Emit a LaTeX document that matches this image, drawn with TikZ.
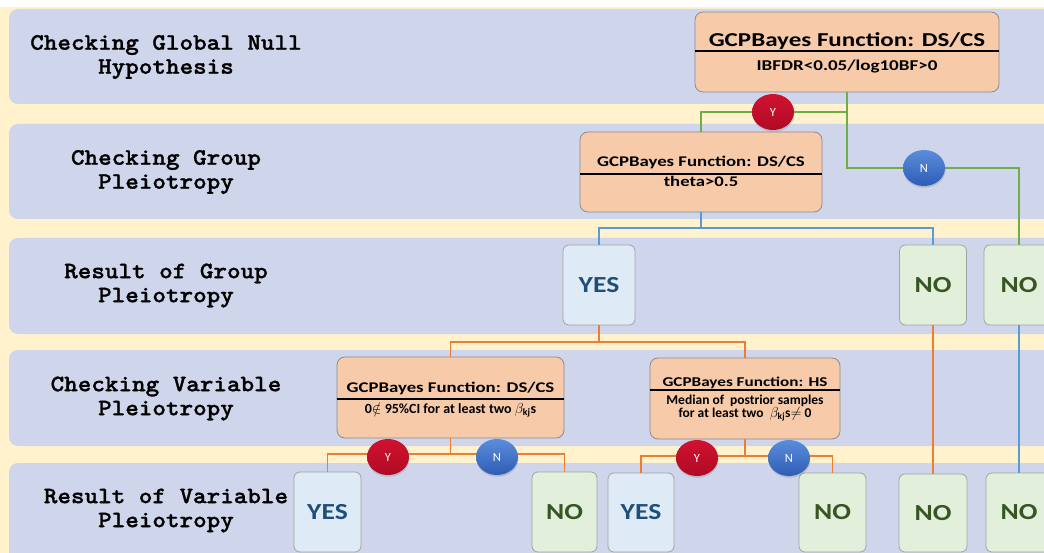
\documentclass[tikz,border=0pt]{standalone}
\usepackage{fontspec}
\setmainfont{Carlito}
\newfontfamily\bxf[FakeStretch=1.27]{Carlito}
\newfontfamily\ynf[FakeStretch=1.2]{Carlito}
\newfontfamily\lbf{lmmonolt10-bold}[Extension=.otf, FakeStretch=1.1, FakeBold=1.2]
\usetikzlibrary{shapes.geometric,shadows}
\definecolor{bandc}{HTML}{CFD5EA}
\definecolor{yel}{HTML}{FFF2CC}
\definecolor{peach}{HTML}{F7CBAA}
\definecolor{yesf}{HTML}{DEEAF6}
\definecolor{yestxt}{HTML}{1F4E79}
\definecolor{nof}{HTML}{E2EFDA}
\definecolor{notxt}{HTML}{375623}
\definecolor{gline}{HTML}{70AD47}
\definecolor{bline}{HTML}{5B9BD5}
\definecolor{oline}{HTML}{ED7D31}
\definecolor{ytop}{HTML}{D0122F}
\definecolor{ybot}{HTML}{B00A25}
\definecolor{ntop}{HTML}{5B8DDB}
\definecolor{nbot}{HTML}{2E5DB5}
\definecolor{bord}{HTML}{8C8C8C}
\begin{document}
\begin{tikzpicture}[x=1pt,y=-1pt,
 fbox/.style={draw=bord, fill=peach, rounded corners=8pt, line width=0.8pt, inner sep=0},
 divl/.style={line width=1.2pt, black},
 ttl/.style={anchor=base, font=\bxf\bfseries\fontsize{#1}{#1}\selectfont},
 sub/.style={anchor=base, font=\bfseries\fontsize{#1}{#1}\selectfont},
 resbox/.style={draw=bord!80, rounded corners=6pt, line width=0.8pt, minimum width=67pt, minimum height=80pt, inner sep=0, font=\ynf\bfseries\fontsize{23}{23}\selectfont},
 yesbox/.style={resbox, fill=yesf, text=yestxt},
 nobox/.style={resbox, fill=nof, text=notxt},
 lab/.style={font=\lbf\fontsize{23.5}{24}\selectfont, align=center},
 conn/.style={line width=1.4pt},
 circ/.style={ellipse, minimum width=42pt, minimum height=36pt, inner sep=0, text=white, font=\fontsize{12.5}{12.5}\selectfont, drop shadow={shadow xshift=0.5pt, shadow yshift=-1.8pt, opacity=0.3}},
 ycirc/.style={circ, top color=ytop, bottom color=ybot},
 ncirc/.style={circ, top color=ntop, bottom color=nbot},
]
\useasboundingbox (0,0) rectangle (1044,553);
\clip (0,0) rectangle (1044,553);
\fill[white] (0,0) rectangle (1044,553);
\fill[yel] (0,7) rectangle (1044,553);
\fill[bandc, rounded corners=9pt] (9,9) rectangle (1070,104);
\fill[bandc, rounded corners=9pt] (9,124) rectangle (1070,219);
\fill[bandc, rounded corners=9pt] (9,238) rectangle (1070,334);
\fill[bandc, rounded corners=9pt] (9,350) rectangle (1070,446);
\fill[bandc, rounded corners=9pt] (9,463) rectangle (1070,580);

% left labels
\node[lab] (l1) at (166,57) {Checking Global Null\\Hypothesis};
\node[lab] (l2) at (166,172) {Checking Group\\Pleiotropy};
\node[lab] (l3) at (166,285.5) {Result of Group\\Pleiotropy};
\node[lab] (l4) at (166,398.5) {Checking Variable\\Pleiotropy};
\node[lab] (l5) at (166,510.5) {Result of Variable\\Pleiotropy};

% function boxes
\node[fbox, minimum width=304pt, minimum height=80pt] (gnull) at (847,52) {};
\draw[divl] ([yshift=1pt]gnull.west) -- ([yshift=1pt]gnull.east);
\node[ttl=19.7] (gnullT) at (847,46.5) {GCPBayes Function: DS/CS};
\node[ttl=15] (gnullS) at (847,71) {IBFDR<0.05/log10BF>0};

\node[fbox, minimum width=242pt, minimum height=80pt] (grp) at (701,172) {};
\draw[divl] ([yshift=-2pt]grp.west) -- ([yshift=-2pt]grp.east);
\node[ttl=14.8] (grpT) at (701,167) {GCPBayes Function: DS/CS};
\node[ttl=14.7] (grpS) at (701,187) {theta>0.5};

\node[fbox, minimum width=227pt, minimum height=81pt] (vds) at (450.5,397.5) {};
\draw[divl] ([yshift=-1.5pt]vds.west) -- ([yshift=-1.5pt]vds.east);
\node[ttl=14.8] (vdsT) at (450.5,392) {GCPBayes Function: DS/CS};
\node[sub=14] (vdsS) at (450.5,413) {0$\notin$ 95\%CI for at least two $\beta_{\mathbf{kj}}$s};

\node[fbox, minimum width=190pt, minimum height=81pt] (vhs) at (745,398.5) {};
\draw[divl] ([yshift=8.5pt]vhs.west) -- ([yshift=8.5pt]vhs.east);
\node[ttl=13.5] (vhsT) at (745,386) {GCPBayes Function: HS};
\node[sub=13.5] (vhsS1) at (745,404) {Median of\ \ postrior samples};
\node[sub=13.5] (vhsS2) at (745,417.5) {for at least two\ \ $\beta_{\mathbf{kj}}$s$\neq$ 0};

% result boxes
\node[yesbox, minimum width=72pt] (yesG) at (599,285) {YES};
\node[nobox] (noG1) at (933,285) {NO};
\node[nobox, minimum width=70pt] (noG2) at (1019,285) {NO};
\node[yesbox] (yesV1) at (327.5,512) {YES};
\node[nobox, minimum width=65pt] (noV1) at (564.5,512) {NO};
\node[yesbox, minimum width=66pt, minimum height=79pt] (yesV2) at (641,512.5) {YES};
\node[nobox, minimum height=79pt] (noV2) at (832.5,512.5) {NO};
\node[nobox, minimum width=68pt, minimum height=78pt] (noV3) at (933,513) {NO};
\node[nobox, minimum width=66pt, minimum height=79pt] (noV4) at (1019,512.5) {NO};

% connectors
\coordinate (j1) at (847,112);
\coordinate (j2) at (847,168);
\draw[conn, gline] (gnull.south) -- (j1) -| (grp.north);
\draw[conn, gline] (j1) -- (j2) -| (noG2.north);
\coordinate (j3) at (701,228);
\draw[conn, bline] (grp.south) -- (j3) -| (yesG.north);
\draw[conn, bline] (j3) -| (noG1.north);
\draw[conn, bline] (noG2.south) -- (noV4.north);
\draw[conn, oline] (noG1.south) -- (noV3.north);
\coordinate (j4) at (599,342);
\draw[conn, oline] (yesG.south) -- (j4) -| (vds.north);
\draw[conn, oline] (j4) -| (vhs.north);
\coordinate (j5) at (450.5,454);
\draw[conn, oline] (vds.south) -- (j5) -| (yesV1.north);
\draw[conn, oline] (j5) -| (noV1.north);
\coordinate (j6) at (745,456);
\draw[conn, oline] (vhs.south) -- (j6) -| (yesV2.north);
\draw[conn, oline] (j6) -| (noV2.north);

% decision circles
\node[ycirc] (y1) at (773,112) {Y};
\node[ncirc] (n1) at (924,168) {N};
\node[ycirc] (y2) at (388,457) {Y};
\node[ncirc] (n2) at (497,457) {N};
\node[ycirc] (y3) at (697,458) {Y};
\node[ncirc] (n3) at (789,458) {N};
\end{tikzpicture}
\end{document}
